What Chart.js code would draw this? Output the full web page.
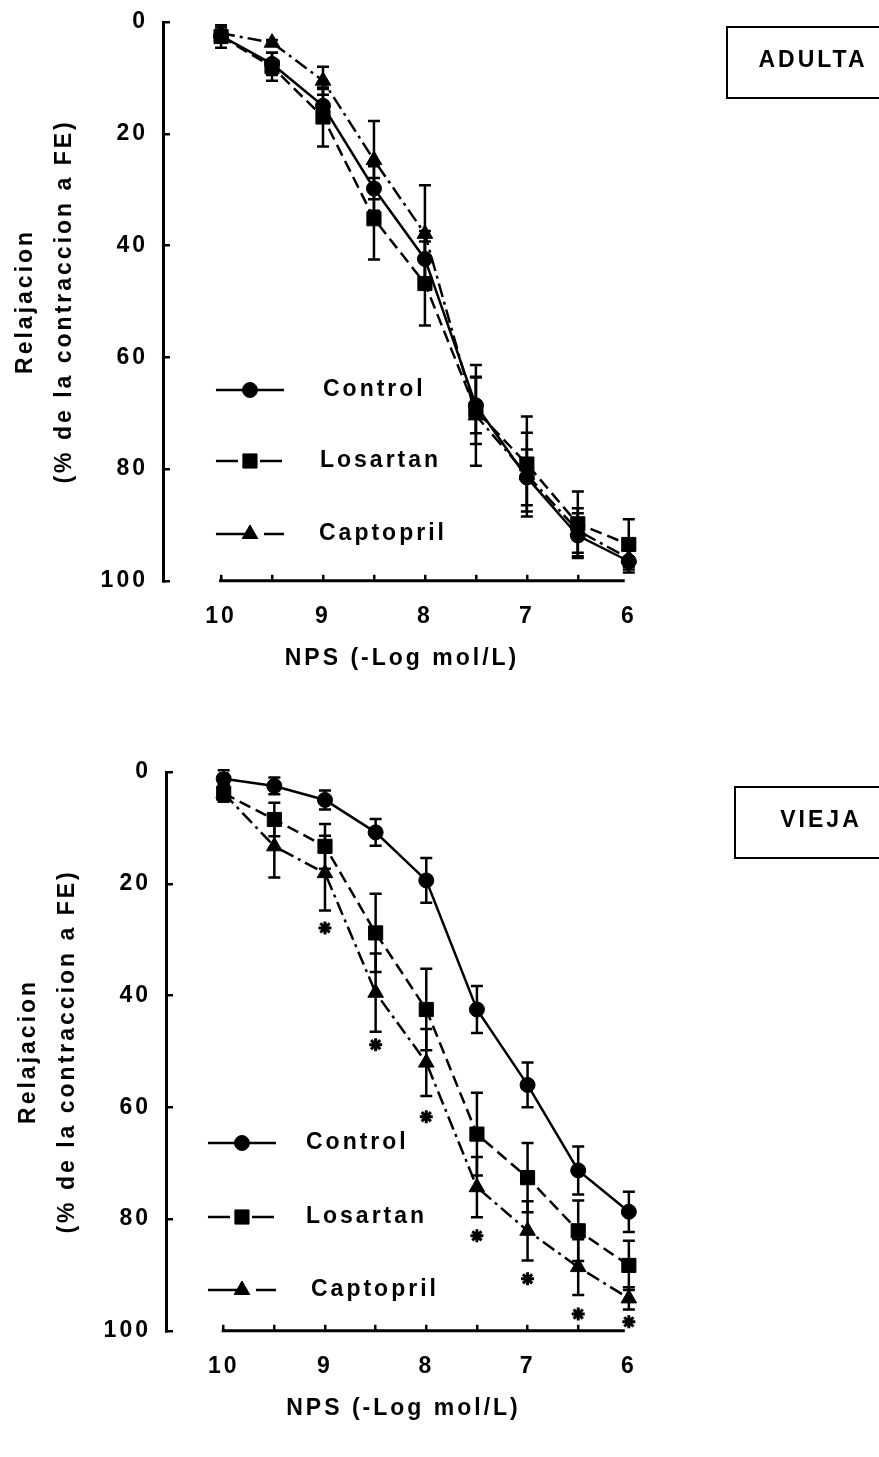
<!DOCTYPE html>
<html lang="es">
<head>
  <meta charset="UTF-8">
  <title>Relajacion a NPS - Adulta / Vieja</title>
  <script src="https://cdn.jsdelivr.net/npm/chart.js"></script>
  <style>
    * { margin: 0; padding: 0; box-sizing: border-box; }
    body { background: #fff; width: 879px; height: 1457px; overflow: hidden; }
    canvas { display: block; }
    /* the y tick padding forces ~36px above the plot, so the top canvas starts above the page */
    #adultaChart { margin-top: -20px; }
  </style>
</head>
<body>
  <canvas id="adultaChart" width="879" height="750"></canvas>
  <canvas id="viejaChart" width="879" height="727"></canvas>

  <script>
    // x: concentracion NPS (-Log mol/L)
    const xValues = [10, 9.5, 9, 8.5, 8, 7.5, 7, 6.5, 6];
    const xTickValues = [10, 9.5, 9, 8.5, 8, 7.5, 7, 6.5, 6];
    const xTickLabels = ['10', '', '9', '', '8', '', '7', '', '6'];
    const yTickValues = [0, 20, 40, 60, 80, 100];
    const seriesNames = ['Control', 'Losartan', 'Captopril'];

    // ADULTA
    const adultaControl = [2.5, 7.5, 15.0, 29.8, 42.4, 68.6, 81.5, 91.9, 96.5];
    const adultaControlSE = [1.0, 2.0, 3.0, 4.0, 5.0, 5.0, 5.0, 4.0, 2.0];
    const adultaLosartan = [2.6, 8.0, 17.0, 35.2, 46.8, 69.5, 79.1, 89.8, 93.5];
    const adultaLosartanSE = [2.0, 2.5, 5.3, 7.3, 7.5, 6.0, 8.5, 5.8, 4.5];
    const adultaCaptopril = [2.0, 3.7, 10.5, 24.7, 37.9, 70.4, 81.0, 91.0, 96.0];
    const adultaCaptoprilSE = [1.0, 0.5, 2.5, 7.0, 8.7, 9.0, 7.5, 4.0, 1.5];

    // VIEJA
    const viejaControl = [1.2, 2.5, 5.0, 10.8, 19.4, 42.5, 56.0, 71.3, 78.7];
    const viejaControlSE = [1.5, 1.5, 1.7, 2.4, 4.0, 4.2, 4.0, 4.3, 3.6];
    const viejaLosartan = [3.8, 8.5, 13.3, 28.8, 42.5, 64.8, 72.6, 82.1, 88.3];
    const viejaLosartanSE = [1.5, 3.0, 4.0, 7.0, 7.3, 7.4, 6.2, 5.4, 4.4];
    const viejaCaptopril = [3.8, 13.3, 18.1, 39.5, 52.0, 74.3, 82.1, 88.6, 94.2];
    const viejaCaptoprilSE = [1.5, 5.6, 6.7, 7.0, 6.0, 5.4, 5.3, 5.0, 2.0];
    // p < 0.05 (asteriscos)
    const viejaStarX = [9, 8.5, 8, 7.5, 7, 6.5, 6];
    const viejaStarY = [27.9, 48.8, 61.7, 83.0, 90.7, 97.0, 98.4];

    const FONT = { family: "'Liberation Sans', Arial, sans-serif", size: 23, weight: 'bold' };

    const seriesStyle = [
      { pointStyle: 'circle', radius: 7.5, dash: [], legendDash: [] },
      { pointStyle: 'rect', radius: 10, dash: [12, 6], legendDash: [22, 22] },
      { pointStyle: 'triangle', radius: 9, dash: [14, 5, 3, 5], legendDash: [38, 10, 30] }
    ];

    // canvas letter spacing (texto del original es muy espaciado)
    const spacing = {
      id: 'spacing',
      beforeUpdate(chart) { chart.ctx.letterSpacing = '3px'; },
      beforeDraw(chart) { chart.ctx.letterSpacing = '3px'; }
    };

    const errorBars = {
      id: 'errorBars',
      beforeDatasetsDraw(chart) {
        const { ctx, scales: { x, y } } = chart;
        ctx.save();
        ctx.strokeStyle = '#000';
        ctx.lineWidth = 2.5;
        ctx.setLineDash([]);
        chart.data.datasets.forEach(ds => {
          if (!ds.errors) return;
          ds.data.forEach((p, i) => {
            const e = ds.errors[i];
            const px = x.getPixelForValue(p.x);
            const y1 = y.getPixelForValue(p.y - e);
            const y2 = y.getPixelForValue(p.y + e);
            ctx.beginPath();
            ctx.moveTo(px, y1); ctx.lineTo(px, y2);
            ctx.moveTo(px - 6, y1); ctx.lineTo(px + 6, y1);
            ctx.moveTo(px - 6, y2); ctx.lineTo(px + 6, y2);
            ctx.stroke();
          });
        });
        ctx.restore();
      }
    };

    // eje x separado del eje y, como en el original
    const xAxisLine = {
      id: 'xAxisLine',
      beforeDatasetsDraw(chart) {
        const { ctx, chartArea, scales: { x } } = chart;
        ctx.save();
        ctx.strokeStyle = '#000';
        ctx.lineWidth = 3;
        ctx.beginPath();
        ctx.moveTo(x.getPixelForValue(10) - 2, chartArea.bottom);
        ctx.lineTo(x.getPixelForValue(6.04), chartArea.bottom);
        ctx.stroke();
        ctx.restore();
      }
    };

    const insetLegend = {
      id: 'insetLegend',
      afterDraw(chart, args, opts) {
        const { ctx, chartArea } = chart;
        ctx.save();
        ctx.font = `${FONT.weight} ${FONT.size}px ${FONT.family}`;
        ctx.textBaseline = 'middle';
        ctx.fillStyle = '#000';
        ctx.strokeStyle = '#000';
        seriesNames.forEach((name, i) => {
          const st = seriesStyle[i];
          const y = chartArea.top + opts.rows[i];
          const x0 = chartArea.left + opts.lineStart;
          ctx.lineWidth = 2.5;
          ctx.setLineDash(st.legendDash);
          ctx.beginPath();
          ctx.moveTo(x0, y);
          ctx.lineTo(x0 + 68, y);
          ctx.stroke();
          ctx.setLineDash([]);
          ctx.lineWidth = 1;
          Chart.helpers.drawPoint(ctx, { pointStyle: st.pointStyle, radius: st.radius, rotation: 0, borderWidth: 1 }, x0 + 34, y);
          ctx.fillText(name, x0 + opts.textOffset[i], y);
        });
        ctx.restore();
      }
    };

    const panelLabel = {
      id: 'panelLabel',
      afterDraw(chart, args, opts) {
        const { ctx } = chart;
        const [bx, by, bw, bh] = opts.box;
        ctx.save();
        ctx.strokeStyle = '#000';
        ctx.lineWidth = 2;
        ctx.strokeRect(bx, by, bw, bh);
        ctx.font = `${FONT.weight} ${FONT.size}px ${FONT.family}`;
        ctx.fillStyle = '#000';
        ctx.textAlign = 'center';
        ctx.textBaseline = 'middle';
        ctx.fillText(opts.text, opts.textX, by + bh / 2 - 2);
        ctx.restore();
      }
    };

    function series(name, ys, se, st) {
      return {
        label: name,
        data: xValues.map((x, i) => ({ x, y: ys[i] })),
        errors: se,
        borderColor: '#000',
        backgroundColor: '#000',
        borderWidth: 2.5,
        borderDash: st.dash,
        pointStyle: st.pointStyle,
        pointRadius: st.radius,
        pointBackgroundColor: '#000',
        pointBorderColor: '#000',
        pointBorderWidth: 1,
        tension: 0,
        fill: false
      };
    }

    function makePanel(canvasId, cfg) {
      const datasets = [
        series(seriesNames[0], cfg.control, cfg.controlSE, seriesStyle[0]),
        series(seriesNames[1], cfg.losartan, cfg.losartanSE, seriesStyle[1]),
        series(seriesNames[2], cfg.captopril, cfg.captoprilSE, seriesStyle[2])
      ];
      if (cfg.starX) {
        datasets.push({
          label: '*',
          data: cfg.starX.map((x, i) => ({ x, y: cfg.starY[i] })),
          showLine: false,
          pointStyle: 'star',
          pointRadius: 6.5,
          pointBorderWidth: 3,
          pointBorderColor: '#000',
          pointBackgroundColor: '#000'
        });
      }

      return new Chart(document.getElementById(canvasId), {
        type: 'line',
        data: { datasets },
        plugins: [spacing, errorBars, xAxisLine, insetLegend, panelLabel],
        options: {
          responsive: false,
          animation: false,
          events: [],
          layout: { padding: cfg.padding },
          scales: {
            x: {
              type: 'linear',
              reverse: true,
              min: 5.89,
              max: 10.56,
              afterBuildTicks: s => { s.ticks = xTickValues.map(v => ({ value: v })); },
              ticks: {
                autoSkip: false,
                maxRotation: 0,
                padding: 28,
                color: '#000',
                font: FONT,
                callback: v => xTickLabels[xTickValues.indexOf(v)] ?? ''
              },
              grid: {
                display: true,
                drawOnChartArea: false,
                drawTicks: true,
                tickLength: -6,
                lineWidth: 2.5,
                color: c => (c.tick && c.tick.value === 6) ? 'rgba(0,0,0,0)' : '#000'
              },
              border: { display: false },
              title: {
                display: true,
                text: 'NPS (-Log mol/L)',
                color: '#000',
                font: FONT,
                padding: { top: -14, bottom: 0 }
              }
            },
            y: {
              type: 'linear',
              reverse: true,
              min: 0,
              max: 100,
              afterBuildTicks: s => { s.ticks = yTickValues.map(v => ({ value: v })); },
              ticks: { padding: 22, color: '#000', font: FONT },
              grid: {
                display: true,
                drawOnChartArea: false,
                drawTicks: true,
                tickLength: -6,
                lineWidth: 2.5,
                color: '#000'
              },
              border: { display: true, width: 3, color: '#000' },
              title: {
                display: true,
                text: ['Relajacion', '(% de la contraccion a FE)'],
                color: '#000',
                font: { ...FONT, lineHeight: 1.7 },
                padding: { top: 0, bottom: -5.6 }
              }
            }
          },
          plugins: {
            legend: { display: false },
            tooltip: { enabled: false },
            insetLegend: cfg.legend,
            panelLabel: cfg.label
          }
        }
      });
    }

    makePanel('adultaChart', {
      control: adultaControl, controlSE: adultaControlSE,
      losartan: adultaLosartan, losartanSE: adultaLosartanSE,
      captopril: adultaCaptopril, captoprilSE: adultaCaptoprilSE,
      padding: { left: 6, top: 42, right: 239, bottom: 58 },
      legend: { rows: [368, 439, 512], lineStart: 52, textOffset: [107, 104, 103] },
      label: { text: 'ADULTA', box: [727, 47, 170, 71], textX: 813 }
    });

    makePanel('viejaChart', {
      control: viejaControl, controlSE: viejaControlSE,
      losartan: viejaLosartan, losartanSE: viejaLosartanSE,
      captopril: viejaCaptopril, captoprilSE: viejaCaptoprilSE,
      starX: viejaStarX, starY: viejaStarY,
      padding: { left: 9, top: 42, right: 239, bottom: 35 },
      legend: { rows: [371, 445, 518], lineStart: 41, textOffset: [98, 98, 103] },
      label: { text: 'VIEJA', box: [735, 57, 170, 71], textX: 821 }
    });
  </script>
</body>
</html>
